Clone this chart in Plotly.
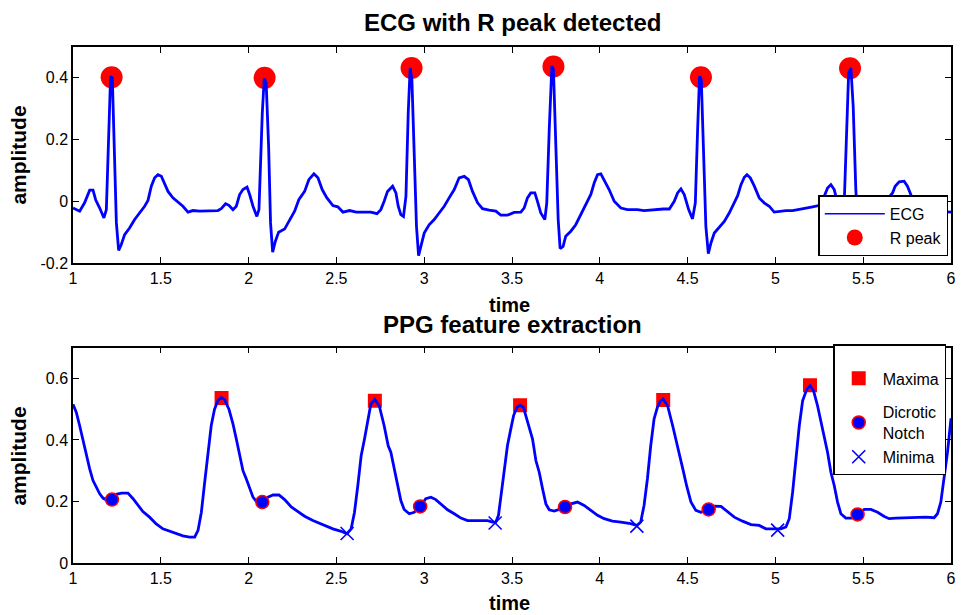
import plotly.graph_objects as go

# ---------------- data ----------------
ecg_t = [1.000, 1.038, 1.066, 1.095, 1.114, 1.129, 1.152, 1.176, 1.190, 1.205, 1.214, 1.224, 1.233, 1.247,
         1.260, 1.275, 1.294, 1.323, 1.351, 1.380, 1.408, 1.427, 1.446, 1.465, 1.484, 1.503, 1.522, 1.541,
         1.569, 1.598, 1.626, 1.655, 1.683, 1.721, 1.778, 1.825, 1.844, 1.869, 1.888, 1.911, 1.930, 1.949,
         1.968, 1.991, 2.006, 2.025, 2.047, 2.059, 2.078, 2.089, 2.100, 2.114, 2.125, 2.137, 2.152, 2.171,
         2.205, 2.233, 2.262, 2.286, 2.319, 2.343, 2.372, 2.395, 2.419, 2.446, 2.480, 2.508, 2.537, 2.575,
         2.613, 2.651, 2.696, 2.731, 2.753, 2.772, 2.791, 2.820, 2.839, 2.852, 2.867, 2.882, 2.896, 2.909,
         2.920, 2.930, 2.943, 2.956, 2.968, 2.981, 3.000, 3.028, 3.057, 3.085, 3.114, 3.142, 3.171, 3.199,
         3.228, 3.252, 3.275, 3.304, 3.332, 3.370, 3.408, 3.436, 3.474, 3.512, 3.550, 3.569, 3.588, 3.607,
         3.630, 3.645, 3.664, 3.687, 3.698, 3.712, 3.727, 3.736, 3.750, 3.763, 3.774, 3.791, 3.806, 3.835,
         3.863, 3.892, 3.920, 3.949, 3.968, 3.987, 4.006, 4.025, 4.053, 4.082, 4.120, 4.157, 4.214, 4.252,
         4.309, 4.362, 4.396, 4.424, 4.443, 4.462, 4.481, 4.506, 4.528, 4.544, 4.557, 4.568, 4.578, 4.591,
         4.604, 4.618, 4.633, 4.652, 4.680, 4.709, 4.737, 4.766, 4.785, 4.804, 4.823, 4.838, 4.857, 4.880,
         4.908, 4.936, 4.965, 4.993, 5.022, 5.060, 5.098, 5.136, 5.174, 5.212, 5.246, 5.278, 5.297, 5.316,
         5.335, 5.354, 5.373, 5.392, 5.405, 5.417, 5.430, 5.443, 5.458, 5.470, 5.480, 5.495, 5.520, 5.560,
         5.600, 5.630, 5.650, 5.667, 5.682, 5.705, 5.733, 5.752, 5.771, 5.790, 5.820, 5.860, 5.910, 5.960,
         6.000]
ecg_v = [-0.022, -0.032, -0.005, 0.036, 0.036, 0.005, -0.022, -0.054, -0.027, 0.286, 0.405, 0.400, 0.178, -0.070,
         -0.159, -0.140, -0.108, -0.086, -0.059, -0.038, -0.016, 0.003, 0.049, 0.076, 0.086, 0.081, 0.059, 0.032,
         0.011, -0.003, -0.016, -0.035, -0.030, -0.032, -0.030, -0.030, -0.024, -0.008, -0.013, -0.027, -0.016, 0.022,
         0.038, 0.046, 0.022, -0.016, -0.049, -0.027, 0.286, 0.398, 0.384, 0.178, -0.070, -0.165, -0.130, -0.100,
         -0.090, -0.059, -0.032, 0.005, 0.032, 0.070, 0.089, 0.076, 0.038, 0.011, -0.014, -0.018, -0.035, -0.030,
         -0.035, -0.035, -0.035, -0.040, -0.027, 0.000, 0.032, 0.049, 0.027, -0.016, -0.043, -0.049, 0.016, 0.286,
         0.432, 0.394, 0.124, -0.081, -0.176, -0.146, -0.103, -0.076, -0.059, -0.038, -0.016, 0.011, 0.038, 0.076,
         0.081, 0.070, 0.032, -0.005, -0.024, -0.029, -0.032, -0.045, -0.045, -0.036, -0.035, -0.022, 0.011, 0.027,
         0.027, 0.000, -0.038, -0.059, -0.005, 0.232, 0.438, 0.427, 0.178, -0.059, -0.153, -0.146, -0.113, -0.097,
         -0.076, -0.043, -0.011, 0.022, 0.059, 0.086, 0.089, 0.070, 0.038, 0.000, -0.022, -0.027, -0.027, -0.030,
         -0.027, -0.025, -0.025, 0.000, 0.027, 0.040, 0.022, -0.027, -0.057, -0.005, 0.232, 0.405, 0.394, 0.157,
         -0.081, -0.170, -0.135, -0.103, -0.086, -0.065, -0.038, -0.005, 0.018, 0.054, 0.078, 0.086, 0.076, 0.049,
         0.011, -0.005, -0.016, -0.035, -0.032, -0.030, -0.030, -0.027, -0.022, -0.018, -0.014, 0.016, 0.043, 0.054,
         0.038, -0.005, -0.038, -0.005, 0.232, 0.416, 0.432, 0.308, 0.038, -0.080, -0.160, -0.140, -0.100, -0.070,
         -0.035, -0.005, 0.015, 0.027, 0.049, 0.063, 0.065, 0.049, 0.022, -0.005, -0.022, -0.030, -0.032, -0.034,
         -0.035]

rpeak_t = [1.220, 2.091, 2.928, 3.736, 4.576, 5.425]
rpeak_v = [0.402, 0.400, 0.432, 0.437, 0.402, 0.431]

ppg_t = [1.000, 1.019, 1.038, 1.057, 1.076, 1.095, 1.114, 1.133, 1.152, 1.171, 1.194, 1.218, 1.247, 1.275,
         1.313, 1.342, 1.370, 1.398, 1.436, 1.474, 1.512, 1.550, 1.588, 1.626, 1.664, 1.693, 1.712, 1.731,
         1.750, 1.769, 1.787, 1.806, 1.825, 1.844, 1.863, 1.888, 1.911, 1.930, 1.949, 1.968, 1.987, 2.006,
         2.025, 2.044, 2.078, 2.110, 2.139, 2.173, 2.205, 2.243, 2.281, 2.319, 2.366, 2.423, 2.480, 2.528,
         2.560, 2.584, 2.603, 2.622, 2.641, 2.660, 2.679, 2.696, 2.719, 2.744, 2.772, 2.795, 2.810, 2.829,
         2.848, 2.867, 2.886, 2.915, 2.943, 2.977, 3.009, 3.038, 3.066, 3.095, 3.133, 3.171, 3.209, 3.247,
         3.304, 3.361, 3.389, 3.408, 3.423, 3.436, 3.455, 3.474, 3.493, 3.509, 3.528, 3.546, 3.565, 3.588,
         3.617, 3.636, 3.655, 3.674, 3.693, 3.712, 3.740, 3.778, 3.806, 3.835, 3.873, 3.911, 3.949, 3.987,
         4.025, 4.072, 4.120, 4.176, 4.211, 4.233, 4.252, 4.271, 4.290, 4.309, 4.328, 4.345, 4.361, 4.386,
         4.415, 4.443, 4.462, 4.475, 4.494, 4.519, 4.547, 4.576, 4.620, 4.652, 4.690, 4.728, 4.766, 4.813,
         4.861, 4.908, 4.946, 4.993, 5.031, 5.060, 5.079, 5.098, 5.117, 5.136, 5.155, 5.179, 5.198, 5.217,
         5.240, 5.268, 5.297, 5.316, 5.335, 5.354, 5.373, 5.401, 5.435, 5.468, 5.506, 5.544, 5.582, 5.620,
         5.648, 5.686, 5.743, 5.800, 5.857, 5.904, 5.923, 5.942, 5.961, 5.980, 6.000]
ppg_v = [0.516, 0.489, 0.446, 0.398, 0.349, 0.306, 0.268, 0.246, 0.225, 0.211, 0.203, 0.206, 0.223, 0.227,
         0.227, 0.209, 0.187, 0.167, 0.149, 0.127, 0.111, 0.103, 0.095, 0.088, 0.084, 0.084, 0.106, 0.165,
         0.263, 0.360, 0.446, 0.500, 0.527, 0.538, 0.531, 0.500, 0.452, 0.403, 0.354, 0.300, 0.273, 0.241,
         0.214, 0.200, 0.198, 0.214, 0.221, 0.221, 0.206, 0.182, 0.167, 0.152, 0.138, 0.125, 0.111, 0.103,
         0.095, 0.111, 0.165, 0.252, 0.349, 0.403, 0.468, 0.516, 0.531, 0.511, 0.446, 0.381, 0.360, 0.306,
         0.252, 0.203, 0.174, 0.160, 0.165, 0.184, 0.209, 0.214, 0.206, 0.192, 0.173, 0.160, 0.146, 0.138,
         0.138, 0.138, 0.133, 0.133, 0.155, 0.209, 0.295, 0.381, 0.435, 0.479, 0.506, 0.513, 0.506, 0.462,
         0.403, 0.333, 0.295, 0.241, 0.192, 0.173, 0.169, 0.176, 0.184, 0.192, 0.198, 0.187, 0.171, 0.155,
         0.144, 0.136, 0.133, 0.128, 0.122, 0.133, 0.187, 0.273, 0.381, 0.468, 0.506, 0.527, 0.533, 0.511,
         0.446, 0.381, 0.327, 0.300, 0.252, 0.198, 0.171, 0.165, 0.174, 0.185, 0.184, 0.165, 0.149, 0.136,
         0.125, 0.122, 0.111, 0.111, 0.111, 0.117, 0.144, 0.230, 0.338, 0.446, 0.527, 0.565, 0.576, 0.560,
         0.511, 0.435, 0.360, 0.295, 0.252, 0.198, 0.160, 0.146, 0.146, 0.157, 0.174, 0.174, 0.165, 0.151,
         0.144, 0.146, 0.147, 0.149, 0.149, 0.147, 0.160, 0.198, 0.273, 0.360, 0.470]

maxima_t = [1.846, 2.719, 3.546, 4.361, 5.197]
maxima_v = [0.536, 0.527, 0.513, 0.530, 0.578]
notch_t = [1.222, 2.078, 2.977, 3.802, 4.620, 5.468]
notch_v = [0.206, 0.198, 0.184, 0.182, 0.174, 0.158]
minima_t = [2.561, 3.404, 4.211, 5.013]
minima_v = [0.096, 0.130, 0.120, 0.107]

x_ticks = [1, 1.5, 2, 2.5, 3, 3.5, 4, 4.5, 5, 5.5, 6]
x_tick_labels = ["1", "1.5", "2", "2.5", "3", "3.5", "4", "4.5", "5", "5.5", "6"]
ecg_y_ticks = [-0.2, 0, 0.2, 0.4]
ecg_y_labels = ["-0.2", "0", "0.2", "0.4"]
ppg_y_ticks = [0, 0.2, 0.4, 0.6]
ppg_y_labels = ["0", "0.2", "0.4", "0.6"]

# ---------------- layout constants ----------------
W, H = 968, 615
L, R, T, B = 73.3, 953.0, 46.7, 562.7
FONT = "Liberation Sans, Arial, Helvetica, sans-serif"
BLUE = "#0000ff"
RED = "#ff0000"


def px_x(p):
    return (p - L) / (R - L)


def px_y(p):
    return (B - p) / (B - T)


top_dom = [px_y(262.7), 1.0]
bot_dom = [0.0, px_y(347.3)]

fig = go.Figure()

# top: ECG
fig.add_trace(go.Scatter(x=rpeak_t, y=rpeak_v, mode="markers", name="R peak",
                         marker=dict(color=RED, size=22), xaxis="x", yaxis="y",
                         legend="legend", legendrank=2))
fig.add_trace(go.Scatter(x=ecg_t, y=ecg_v, mode="lines", name="ECG", showlegend=False,
                         line=dict(color=BLUE, width=2.8), xaxis="x", yaxis="y"))
# legend-only entry with the thin line sample used by the reference legend
fig.add_trace(go.Scatter(x=[None], y=[None], mode="lines", name="ECG",
                         line=dict(color=BLUE, width=1.5), xaxis="x", yaxis="y",
                         legend="legend", legendrank=1))

# bottom: PPG
fig.add_trace(go.Scatter(x=maxima_t, y=maxima_v, mode="markers", name="Maxima",
                         marker=dict(symbol="square", color=RED, size=14),
                         xaxis="x2", yaxis="y2", legend="legend2", legendrank=1,
                         legendgroup="g1"))
fig.add_trace(go.Scatter(x=ppg_t, y=ppg_v, mode="lines", name="PPG", showlegend=False,
                         line=dict(color=BLUE, width=2.8), xaxis="x2", yaxis="y2"))
fig.add_trace(go.Scatter(x=notch_t, y=notch_v, mode="markers", name="Dicrotic<br>Notch",
                         marker=dict(symbol="circle", color=BLUE, size=13,
                                     line=dict(color=RED, width=1.5)),
                         xaxis="x2", yaxis="y2", legend="legend2", legendrank=2,
                         legendgroup="g2"))
fig.add_trace(go.Scatter(x=minima_t, y=minima_v, mode="markers", name="Minima",
                         marker=dict(symbol="x-thin", size=13, color=BLUE,
                                     line=dict(color=BLUE, width=1.6)),
                         xaxis="x2", yaxis="y2", legend="legend2", legendrank=3,
                         legendgroup="g2"))

axis_common = dict(showgrid=False, zeroline=False, showline=True, linecolor="black",
                   linewidth=1.5, mirror="ticks", ticks="inside", ticklen=6,
                   tickcolor="black", tickwidth=1.2,
                   tickfont=dict(family=FONT, size=16, color="black"))

legend_common = dict(bgcolor="white", bordercolor="black", borderwidth=1.5,
                     font=dict(family=FONT, size=16, color="black"),
                     xanchor="left", yanchor="top")

fig.update_layout(
    width=W, height=H,
    margin=dict(l=L, r=W - R, t=T, b=H - B, pad=0),
    paper_bgcolor="white", plot_bgcolor="white",
    font=dict(family=FONT, color="black"),
    xaxis=dict(domain=[0, 1], range=[1, 6], anchor="y", tickvals=x_ticks,
               ticktext=x_tick_labels, **axis_common),
    yaxis=dict(domain=top_dom, range=[-0.2, 0.5], anchor="x", tickvals=ecg_y_ticks,
               ticktext=ecg_y_labels, **axis_common),
    xaxis2=dict(domain=[0, 1], range=[1, 6], anchor="y2", tickvals=x_ticks,
                ticktext=x_tick_labels, **axis_common),
    yaxis2=dict(domain=bot_dom, range=[0, 0.7], anchor="x2", tickvals=ppg_y_ticks,
                ticktext=ppg_y_labels, **axis_common),
    legend=dict(x=px_x(820), y=px_y(195), itemwidth=60, traceorder="normal",
                entrywidth=58, **legend_common),
    legend2=dict(x=px_x(835), y=px_y(344), itemwidth=38, traceorder="grouped",
                 tracegroupgap=10, entrywidth=63,
                 title=dict(text=" ", font=dict(family=FONT, size=12)),
                 **legend_common),
    showlegend=True,
)

annots = [
    dict(text="<b>ECG with R peak detected</b>", x=0.5, y=px_y(22), size=24, angle=0),
    dict(text="<b>time</b>", x=px_x(511), y=px_y(305), size=20, angle=0),
    dict(text="<b>PPG feature extraction</b>", x=0.5, y=px_y(324), size=24, angle=0),
    dict(text="<b>time</b>", x=px_x(511), y=px_y(603), size=20, angle=0),
    dict(text="<b>amplitude</b>", x=px_x(18.5), y=px_y(155), size=21, angle=-90),
    dict(text="<b>amplitude</b>", x=px_x(18.5), y=px_y(456), size=21, angle=-90),
]
for a in annots:
    fig.add_annotation(text=a["text"], x=a["x"], y=a["y"], xref="paper", yref="paper",
                       xanchor="center", yanchor="middle", showarrow=False, textangle=a["angle"],
                       font=dict(family=FONT, size=a["size"], color="black"))

fig.write_html("out.html", config={"displayModeBar": False},
               post_script="document.body.style.margin='0';document.body.style.overflow='hidden';")
